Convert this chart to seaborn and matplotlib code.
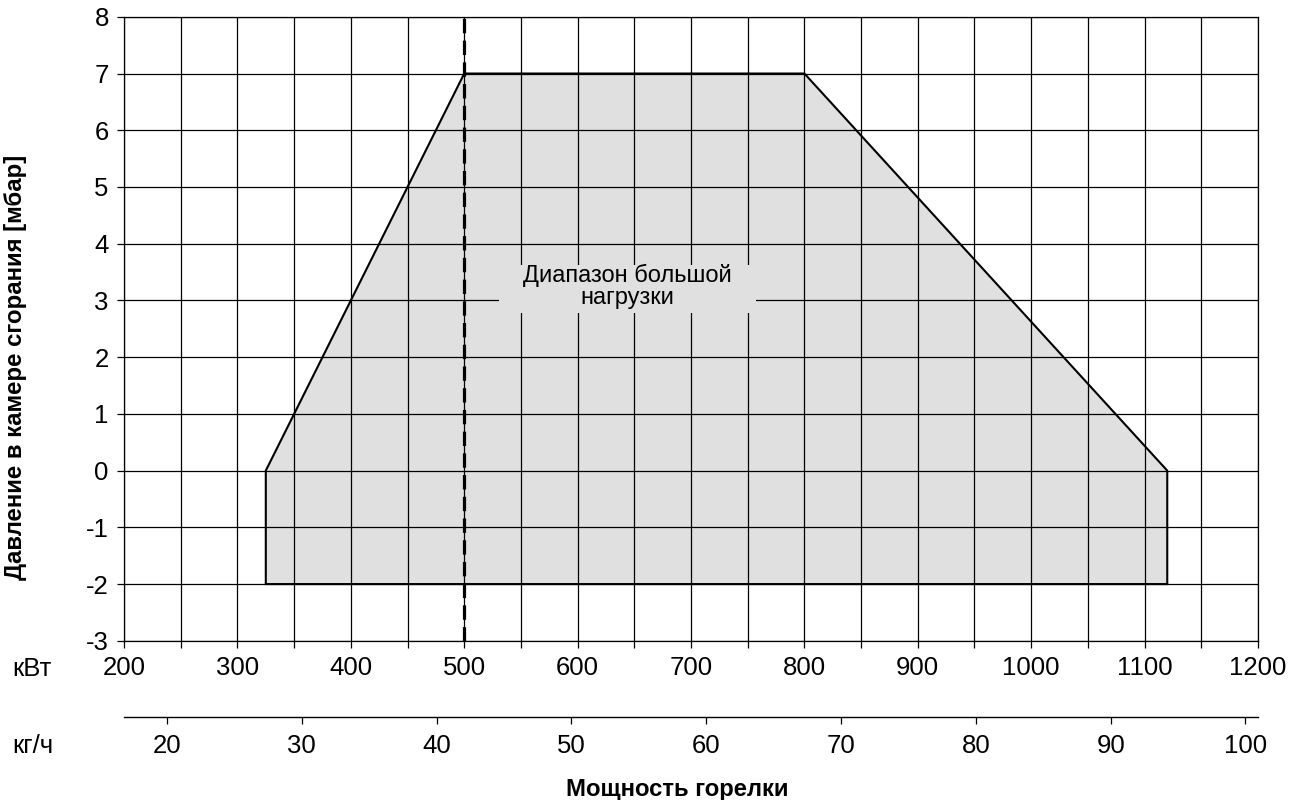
import matplotlib
matplotlib.use("Agg")
import matplotlib.pyplot as plt
from matplotlib.patches import Rectangle
import seaborn as sns
import pandas as pd

# -------------------------------
# Data
# -------------------------------
power_kw = [325, 325, 500, 800, 1120, 1120, 325]
pressure_mbar = [-2, 0, 7, 7, 0, -2, -2]
high_load_kw = 500
kw_ticks = [200, 300, 400, 500, 600, 700, 800, 900, 1000, 1100, 1200]
kg_ticks = [20, 30, 40, 50, 60, 70, 80, 90, 100]
y_ticks = [-3, -2, -1, 0, 1, 2, 3, 4, 5, 6, 7, 8]
KW_PER_KG = 11.89
LABEL_POS = (644, 3.24)

FILL = "#e0e0e0"

sns.set_theme(style="white")
plt.rcParams["font.family"] = ["Liberation Sans", "DejaVu Sans"]
plt.rcParams.update({"text.color": "black", "xtick.color": "black",
                     "ytick.color": "black", "axes.labelcolor": "black"})

df = pd.DataFrame({"kw": power_kw, "mbar": pressure_mbar})

fig = plt.figure(figsize=(12.95, 8), dpi=100)
ax = fig.add_axes([0.0958, 0.199, 0.8756, 0.780])

# field + outline
ax.fill(df["kw"], df["mbar"], color=FILL, zorder=1, lw=0)
sns.lineplot(data=df, x="kw", y="mbar", sort=False, estimator=None,
             color="black", lw=1.5, ax=ax, zorder=3)
ax.axvline(high_load_kw, color="black", lw=2.3, ls=(0, (4.5, 2.3)), zorder=5)

ax.set_xlim(200, 1200)
ax.set_ylim(-3, 8)
ax.set_xticks(kw_ticks)
ax.set_xticks([t + 50 for t in kw_ticks[:-1]], minor=True)
ax.set_yticks(y_ticks)
ax.set_yticklabels([str(t) for t in y_ticks])
ax.grid(True, which="both", color="black", lw=0.9, zorder=2)
ax.set_axisbelow(False)
ax.tick_params(axis="both", which="both", direction="out", length=5,
               width=0.9, color="black", labelsize=18.5, pad=6)
ax.tick_params(axis="x", which="both", bottom=True)
ax.tick_params(axis="y", which="both", left=True)
for s in ax.spines.values():
    s.set_color("black")
    s.set_linewidth(0.9)
ax.set_xlabel("")
ax.set_ylabel("")

# label with a mask over the grid
lx, ly = LABEL_POS
ax.add_patch(Rectangle((lx - 113, ly - 0.47), 226, 0.86, facecolor=FILL,
                       edgecolor="none", zorder=4))
ax.text(lx, ly, "Диапазон большой\nнагрузки", ha="center", va="center",
        fontsize=17, linespacing=1.0, zorder=6)

# secondary mass flow axis
ax2 = fig.add_axes([0.0958, 0.104, 0.8756, 0.0001])
ax2.set_xlim(200 / KW_PER_KG, 1200 / KW_PER_KG)
ax2.set_xticks(kg_ticks)
ax2.set_yticks([])
for side in ["top", "left", "right"]:
    ax2.spines[side].set_visible(False)
ax2.spines["bottom"].set_color("black")
ax2.spines["bottom"].set_linewidth(1.0)
ax2.patch.set_alpha(0)
ax2.tick_params(axis="x", direction="out", length=5, width=0.9,
                color="black", labelsize=18.5, pad=7.5)
ax2.tick_params(axis="x", bottom=True)

fig.text(0.0093, 0.155, "кВт", fontsize=18.5, ha="left", va="baseline")
fig.text(0.0093, 0.059, "кг/ч", fontsize=18.5, ha="left", va="baseline")
fig.text(0.523, 0.005, "Мощность горелки", fontsize=17.2, fontweight="bold",
         ha="center", va="baseline")
fig.text(0.012, 0.541, "Давление в камере сгорания [мбар]", fontsize=17.3,
         fontweight="bold", rotation=90, ha="center", va="center")

fig.savefig("out.png", dpi=100)
